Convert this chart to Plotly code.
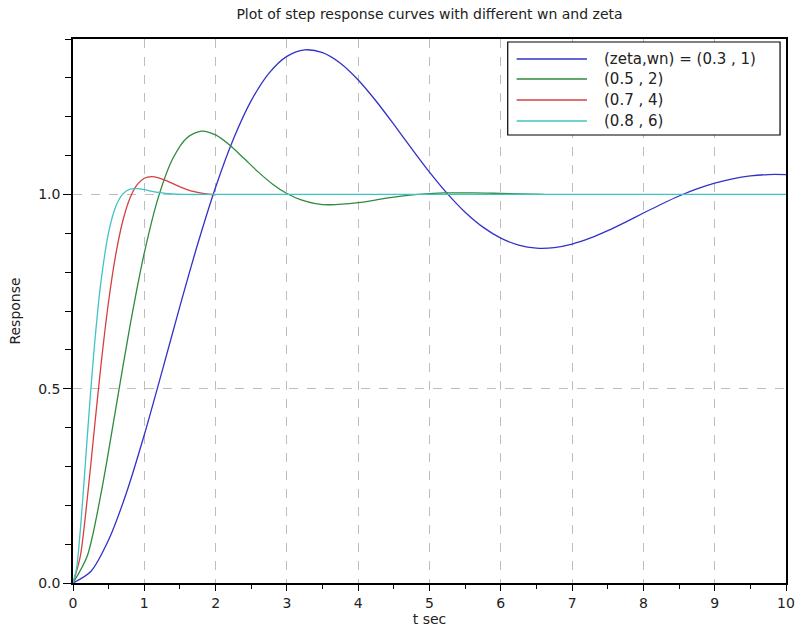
import plotly.graph_objects as go

# step responses
t_blue = [0, 0.25, 0.5, 0.75, 1, 1.25, 1.5, 1.75, 2, 2.25, 2.5, 2.75, 3, 3.25,
          3.5, 3.75, 4, 4.25, 4.5, 4.75, 5, 5.25, 5.5, 5.75, 6, 6.25, 6.5, 6.75,
          7, 7.25, 7.5, 7.75, 8, 8.25, 8.5, 8.75, 9, 9.25, 9.5, 9.75, 10]
y_blue = [0, 0.0296, 0.1111, 0.2324, 0.3814, 0.5452, 0.7125, 0.8730, 1.0186,
          1.1428, 1.2415, 1.3123, 1.3553, 1.3720, 1.3647, 1.3375, 1.2945, 1.2404,
          1.1801, 1.1178, 1.0573, 1.0020, 0.9542, 0.9158, 0.8875, 0.8697, 0.8619,
          0.8632, 0.8721, 0.8873, 0.9068, 0.9289, 0.9521, 0.9748, 0.9959, 1.0142,
          1.0291, 1.0403, 1.0476, 1.0512, 1.0512]

t_green = [0, 0.2, 0.4, 0.6, 0.8, 1.0, 1.2, 1.4, 1.6, 1.8, 2.0, 2.2, 2.4, 2.6,
           2.8, 3.0, 3.2, 3.4, 3.6, 4.0, 4.4, 4.8, 5.2, 5.6, 6.0, 6.6]
y_green = [0, 0.0695, 0.2370, 0.4487, 0.6624, 0.8494, 0.9945, 1.0924, 1.1461,
           1.1629, 1.1531, 1.1266, 1.0923, 1.0574, 1.0264, 1.0023, 0.9858, 0.9766,
           0.9735, 0.9790, 0.9903, 0.9994, 1.0038, 1.0041, 1.0026, 1.0001]

t_red = [0, 0.1, 0.2, 0.3, 0.4, 0.5, 0.6, 0.7, 0.8, 0.9, 1.0, 1.1, 1.2, 1.3,
         1.4, 1.5, 1.6, 1.7, 1.8, 1.9, 2.0]
y_red = [0, 0.0663, 0.2168, 0.3975, 0.5734, 0.7257, 0.8458, 0.9330, 0.9909,
         1.0251, 1.0416, 1.0460, 1.0429, 1.0361, 1.0276, 1.0196, 1.0126, 1.0071,
         1.0031, 1.0004, 0.9988]

t_cyan = [0, 0.05, 0.1, 0.15, 0.2, 0.25, 0.3, 0.35, 0.4, 0.5, 0.6, 0.7, 0.8,
          0.9, 1.0, 1.1, 1.2, 1.4, 1.6, 2.0, 4.0, 7.0, 10.0]
y_cyan = [0, 0.0384, 0.1302, 0.2487, 0.3755, 0.4982, 0.6097, 0.7064, 0.7871,
          0.9028, 0.9690, 1.0013, 1.0134, 1.0150, 1.0122, 1.0084, 1.0051, 1.0011,
          0.9999, 1.0, 1.0, 1.0, 1.0]

labels = ["(zeta,wn) = (0.3 , 1)", "(0.5 , 2)", "(0.7 , 4)", "(0.8 , 6)"]
colors = ["#3232c8", "#2e8b3e", "#d44040", "#40c4c4"]

FONT = "DejaVu Sans, sans-serif"
# plot area in pixels (for placing the hand-drawn legend box)
L, R, T, B = 73, 793, 39, 583


def px(x):
    return (x - L) / (R - L)


def py(y):
    return (B - y) / (B - T)


fig = go.Figure()
series = [(t_blue, y_blue), (t_green, y_green), (t_red, y_red), (t_cyan, y_cyan)]
for i, (tt, yy) in enumerate(series):
    fig.add_trace(go.Scatter(x=tt, y=yy, mode="lines", name=labels[i], showlegend=False,
                             line=dict(color=colors[i], width=1.3, shape="spline",
                                       smoothing=0.8)))

# legend box like the original (long line samples)
shapes = [dict(type="rect", xref="paper", yref="paper", x0=px(512), x1=px(787),
               y0=py(135), y1=py(42), line=dict(color="black", width=1.2),
               fillcolor="white", layer="above")]
annos = []
rows = [59, 79, 100, 121]
for i, lab in enumerate(labels):
    shapes.append(dict(type="line", xref="paper", yref="paper", x0=px(521), x1=px(592),
                       y0=py(rows[i]), y1=py(rows[i]),
                       line=dict(color=colors[i], width=1.5), layer="above"))
    annos.append(dict(text=lab, xref="paper", yref="paper", x=px(607), y=py(rows[i]),
                      xanchor="left", yanchor="middle", showarrow=False,
                      font=dict(family=FONT, size=15, color="#222")))

fig.update_layout(
    width=807, height=636,
    paper_bgcolor="white", plot_bgcolor="white",
    font=dict(family=FONT, size=14, color="#222"),
    margin=dict(l=L, r=807 - R, t=T, b=636 - B),
    title=dict(text="Plot of step response curves with different wn and zeta",
               x=0.5, xref="paper", y=1 - 14 / 636, yanchor="middle",
               font=dict(family=FONT, size=14, color="#222")),
    shapes=shapes, annotations=annos,
    showlegend=False,
)
fig.update_xaxes(range=[0, 10], dtick=1, tick0=0, showline=True, mirror=True,
                 linecolor="black", linewidth=1.5, ticks="outside", ticklen=6,
                 tickcolor="black", showgrid=True, gridcolor="#bdbdbd", griddash="dash",
                 gridwidth=1, zeroline=False,
                 minor=dict(dtick=0.5, ticks="outside", ticklen=4, tickcolor="black",
                            showgrid=False),
                 title=dict(text="t sec", standoff=2, font=dict(size=14)),
                 tickfont=dict(size=14))
fig.update_yaxes(range=[0, 1.4], dtick=0.5, tick0=0, tickformat=".1f", showline=True,
                 mirror=True, linecolor="black", linewidth=1.5, ticks="outside",
                 ticklen=8, tickcolor="black", showgrid=True, gridcolor="#bdbdbd",
                 griddash="dash", gridwidth=1, zeroline=False,
                 minor=dict(dtick=0.1, ticks="outside", ticklen=6, tickcolor="black",
                            showgrid=False),
                 title=dict(text="Response", standoff=14, font=dict(size=14)),
                 tickfont=dict(size=14))

fig.write_html("out.html", config={"displayModeBar": False},
               post_script="document.body.style.margin='0';")
